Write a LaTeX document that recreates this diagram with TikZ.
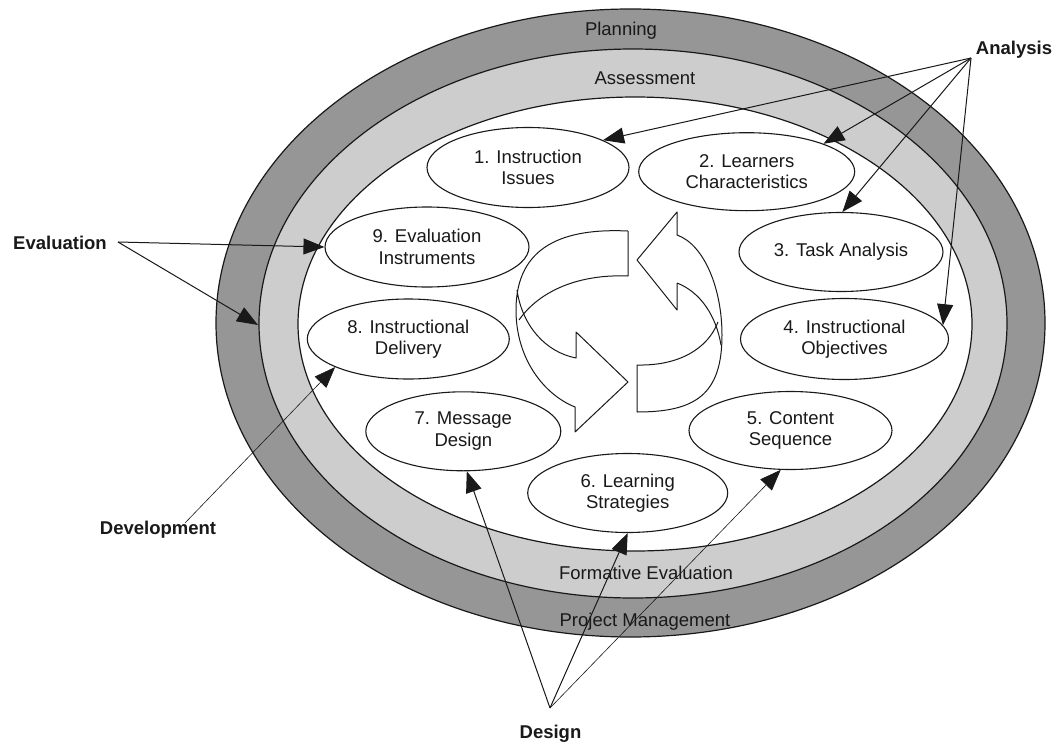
\documentclass[tikz,border=0pt]{standalone}
\usepackage{fontspec}
\setmainfont{Liberation Sans}
\usetikzlibrary{shapes.geometric,arrows.meta}
\definecolor{ringdark}{RGB}{150,150,150}
\definecolor{ringlight}{RGB}{205,205,205}
\definecolor{ink}{RGB}{25,25,25}

\begin{document}
\begin{tikzpicture}[x=1pt,y=-1pt,
  phase/.style={draw=ink, line width=1.1pt, fill=white, ellipse, inner sep=0pt,
    align=center, font=\fontsize{18.5}{21.5}\selectfont, text=ink},
  band/.style={font=\fontsize{18.5}{22}\selectfont, text=ink},
  tag/.style={font=\bfseries\fontsize{18.5}{22}\selectfont, text=ink},
  link/.style={draw=ink, line width=1pt, -{Triangle[length=21pt,width=16pt]}},
  thinlink/.style={link, line width=0.6pt},
  swirl/.style={draw=ink, line width=1pt, line join=round}
]
\useasboundingbox (0,0) rectangle (1058,744);
\fill[white] (0,0) rectangle (1058,744);

% the three nested rings
\filldraw[fill=ringdark, draw=ink, line width=1.2pt] (630.5,323) ellipse [x radius=414.5pt, y radius=314pt];
\filldraw[fill=ringlight, draw=ink, line width=1.2pt] (633,323.5) ellipse [x radius=374pt, y radius=274.5pt];
\filldraw[fill=white, draw=ink, line width=1.2pt] (635,324) ellipse [x radius=337pt, y radius=227pt];

% ring labels
\node[band] (planning) at (621,31) {Planning};
\node[band] (assess) at (645,78) {Assessment};
\node[band] (formative) at (646,573) {Formative Evaluation};
\node[band] (projman) at (645,622) {Project Management};

% central circular arrows: left one pointing right
\draw[swirl] (628,231) .. controls (565,228) and (516,245) .. (516,310)
  .. controls (516,360) and (545,395) .. (575,407)
  -- (575,432) -- (628,382) -- (576,332) -- (576,358)
  .. controls (545,352) and (522,325) .. (517,290);
\draw[swirl] (628,231) -- (628,276)
  .. controls (580,274) and (540,290) .. (519,320);
% right one pointing up
\draw[swirl] (677,283) -- (677,310) -- (637,260) -- (677,212) -- (677,235)
  .. controls (705,245) and (722,290) .. (722,335)
  .. controls (722,395) and (695,412) .. (637,412)
  -- (637,365) .. controls (680,366) and (708,348) .. (718,322);
\draw[swirl] (677,283) .. controls (700,292) and (716,315) .. (721,345);

% the nine phases
\node[phase, minimum width=202pt, minimum height=80pt] (n1) at (528,167.5) {1. Instruction\\Issues};
\node[phase, minimum width=216pt, minimum height=78pt] (n2) at (746.7,171.7) {2. Learners\\Characteristics};
\node[phase, minimum width=204pt, minimum height=79pt] (n3) at (841,252) {3. Task Analysis};
\node[phase, minimum width=208pt, minimum height=81pt] (n4) at (844.5,339) {4. Instructional\\Objectives};
\node[phase, minimum width=203pt, minimum height=78pt] (n5) at (790.5,430.5) {5. Content\\Sequence};
\node[phase, minimum width=200pt, minimum height=79pt] (n6) at (627.7,493) {6. Learning\\Strategies};
\node[phase, minimum width=195pt, minimum height=79pt] (n7) at (463.3,431.3) {7. Message\\Design};
\node[phase, minimum width=202pt, minimum height=80pt] (n8) at (408.3,339) {8. Instructional\\Delivery};
\node[phase, minimum width=204pt, minimum height=80pt] (n9) at (427,247) {9. Evaluation\\Instruments};

% outside labels and the points their arrows start from
\node[tag] (analysis) at (1014,50) {Analysis};
\coordinate (anaP) at (971,58);
\node[tag] (evaluation) at (60,243) {Evaluation};
\coordinate (evaP) at (118,242);
\node[tag] (development) at (158,530) {Development};
\coordinate (devP) at (185,523);
\node[tag] (design) at (550.5,734) {Design};
\coordinate (desP) at (550,708);
\coordinate (ringtip) at (258,325);

% connectors
\draw[link] (anaP) -- (n1.20.5);
\draw[link] (anaP) -- (n2.20);
\draw[link] (anaP) -- (n3.88);
\draw[link] (anaP) -- (n4.8);
\draw[link] (evaP) -- (n9.west);
\draw[link] (evaP) -- (ringtip);
\draw[thinlink] (devP) -- (n8.201);
\draw[link] (desP) -- (n7.275);
\draw[link] (desP) -- (n6.south);
\draw[thinlink] (desP) -- (n5.256);
\end{tikzpicture}
\end{document}
